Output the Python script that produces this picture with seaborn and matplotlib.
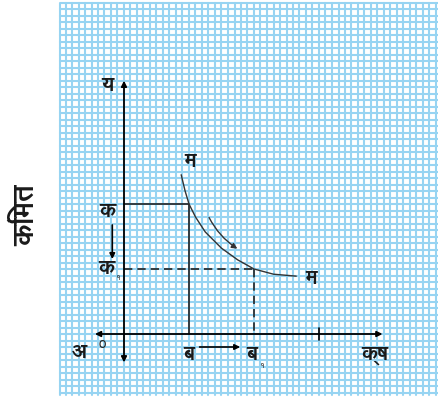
import numpy as np
import pandas as pd
import matplotlib
matplotlib.use("Agg")
import matplotlib.pyplot as plt
import seaborn as sns
from matplotlib import font_manager

# ==========================================
# Diagram data (units: one big square = 1)
# ==========================================
curve_x = [0.88, 0.94, 1.0, 1.1, 1.25, 1.5, 1.75, 2.0, 2.3, 2.65]
curve_y = [2.45, 2.2, 2.0, 1.8, 1.57, 1.32, 1.14, 1.0, 0.92, 0.89]

qty_old, qty_new = 1.0, 2.0      # ब, ब१
price_old, price_new = 2.0, 1.0  # क, क१
extra_tick = 3.0

y_label = "किंमत"
axis_labels = {"y": "य", "x": "क्ष", "origin": "अ", "zero": "o"}
curve_label = "म"
price_labels = ["क", "क"]
qty_labels = ["ब", "ब"]
sub_one = "१"

# ==========================================
# Fonts: try anything that has Devanagari
# ==========================================
sns.set_theme(style="white")
families = []
for f in font_manager.fontManager.ttflist:
    n = f.name.lower()
    if any(k in n for k in ("devanagari", "mangal", "lohit", "freesans", "gargi", "kalimati")):
        families.append(f.name)
plt.rcParams["font.family"] = list(dict.fromkeys(families)) + ["DejaVu Sans"]

fig = plt.figure(figsize=(4.38, 3.99), dpi=100)
ax = fig.add_axes([0, 0, 1, 1])
px = 65.0
ax.set_xlim(-124 / px, (438 - 124) / px)
ax.set_ylim(-(399 - 334) / px, 334 / px)
ax.set_axis_off()

# graph paper background
gx0, gx1 = -0.985, 4.83
gy0, gy1 = -0.94, 5.09
blue = "#97d4f2"
for gx in np.arange(-0.9, gx1, 0.1):
    ax.plot([gx, gx], [gy0, gy1], color=blue, lw=1.5, zorder=0)
for gy in np.arange(-0.9, gy1, 0.1):
    ax.plot([gx0, gx1], [gy, gy], color=blue, lw=1.5, zorder=0)
ax.plot([gx0, gx0, gx1], [gy0, gy1, gy1], color=blue, lw=1.5, zorder=0)

# axes with arrows
arrow_kw = dict(arrowstyle="-|>", color="black", lw=1.2, mutation_scale=8)
both_kw = dict(arrowstyle="<|-|>", color="black", lw=1.3, mutation_scale=8)
ax.annotate("", xy=(0, 3.94), xytext=(0, -0.48), arrowprops=both_kw)
ax.annotate("", xy=(4.02, 0), xytext=(-0.49, 0), arrowprops=both_kw)
ax.plot([extra_tick, extra_tick], [-0.09, 0.09], color="black", lw=1.2)

# price/quantity guides
ax.plot([0, qty_old, qty_old], [price_old, price_old, 0], color="#222222", lw=1.2)
ax.plot([0, qty_new], [price_new, price_new], color="#222222", lw=1.2, ls=(0, (5, 3)))
ax.plot([qty_new, qty_new], [price_new, 0], color="#222222", lw=1.2, ls=(0, (5, 3)))

# demand curve
df = pd.DataFrame({"x": curve_x, "y": curve_y})
sns.lineplot(data=df, x="x", y="y", ax=ax, color="#333333", lw=1.0, sort=False)
ax.annotate("", xy=(1.78, 1.29), xytext=(1.29, 1.83),
            arrowprops=dict(arrowstyle="-|>", color="#333333", lw=1.0, mutation_scale=8,
                            connectionstyle="arc3,rad=0.15"))

# small movement arrows
ax.annotate("", xy=(-0.18, 1.11), xytext=(-0.18, 1.72), arrowprops=arrow_kw)
ax.annotate("", xy=(1.83, -0.2), xytext=(1.12, -0.2), arrowprops=arrow_kw)

# text
fs = 15
tk = dict(fontsize=fs, ha="center", va="center", fontweight="bold", color="#1a1a1a")
ax.text(-0.26, 3.83, axis_labels["y"], **tk)
ax.text(1.02, 2.65, curve_label, **tk)
ax.text(2.88, 0.86, curve_label, **tk)
ax.text(-0.25, 1.88, price_labels[0], **tk)
ax.text(-0.27, 1.0, price_labels[1], **tk)
ax.text(-0.1, 0.86, sub_one, fontsize=6, ha="center", va="center")
ax.text(-0.68, -0.28, axis_labels["origin"], **tk)
ax.text(-0.34, -0.16, axis_labels["zero"], fontsize=10, ha="center", va="center")
ax.text(qty_old, -0.32, qty_labels[0], **tk)
ax.text(qty_new - 0.03, -0.32, qty_labels[1], **tk)
ax.text(qty_new + 0.12, -0.5, sub_one, fontsize=6, ha="center", va="center")
ax.text(3.86, -0.32, axis_labels["x"], **tk)
ax.text(25 / px - 124 / px, (334 - 215) / px, y_label, fontsize=20, rotation=90,
        ha="center", va="center", fontweight="bold", color="#1a1a1a")

fig.savefig("out.png", dpi=100)
